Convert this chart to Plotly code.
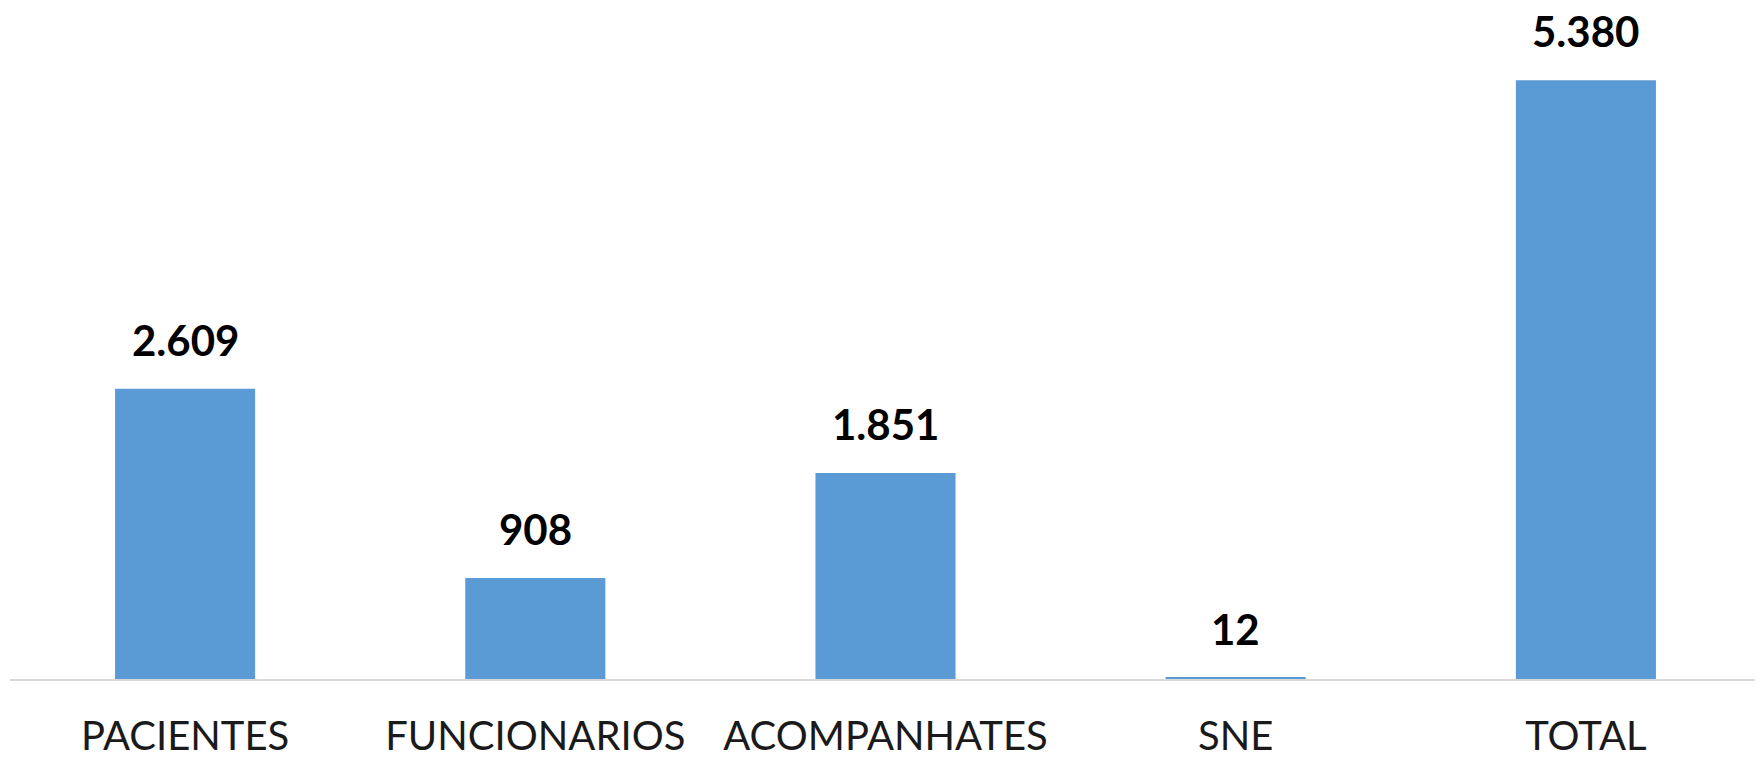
import plotly.graph_objects as go

CATEGORIES = ['PACIENTES', 'FUNCIONARIOS', 'ACOMPANHATES', 'SNE', 'TOTAL']
VALUES = [2609, 908, 1851, 12, 5380]
LABELS = ['2.609', '908', '1.851', '12', '5.380']

BAR_COLOR = '#5b9bd5'
FONT = 'Lato'

fig = go.Figure()

fig.add_trace(go.Bar(
    x=CATEGORIES,
    y=VALUES,
    marker=dict(color=BAR_COLOR, line=dict(width=0)),
    showlegend=False,
    hoverinfo='x+y'
))

# value labels sit a fixed distance above each bar
for cat, val, lab in zip(CATEGORIES, VALUES, LABELS):
    fig.add_annotation(
        x=cat, y=val, text=f"<b>{lab}</b>",
        showarrow=False, yanchor='middle', yshift=49,
        font=dict(family=FONT, size=42, color='black')
    )

fig.update_layout(
    width=1763,
    height=758,
    paper_bgcolor='white',
    plot_bgcolor='white',
    bargap=0.6,
    margin=dict(l=2, r=10, t=0, b=87),
    font=dict(family=FONT, size=40, color='black'),
    xaxis=dict(
        showline=True,
        linecolor='#d9d9d9',
        linewidth=2,
        showgrid=False,
        ticks='',
        ticklabelstandoff=21,
        tickfont=dict(family=FONT, size=40, color='#1a1a1a')
    ),
    yaxis=dict(
        range=[0, 6030],
        visible=False,
        showgrid=False,
        zeroline=False
    )
)

fig.write_html("out.html")
